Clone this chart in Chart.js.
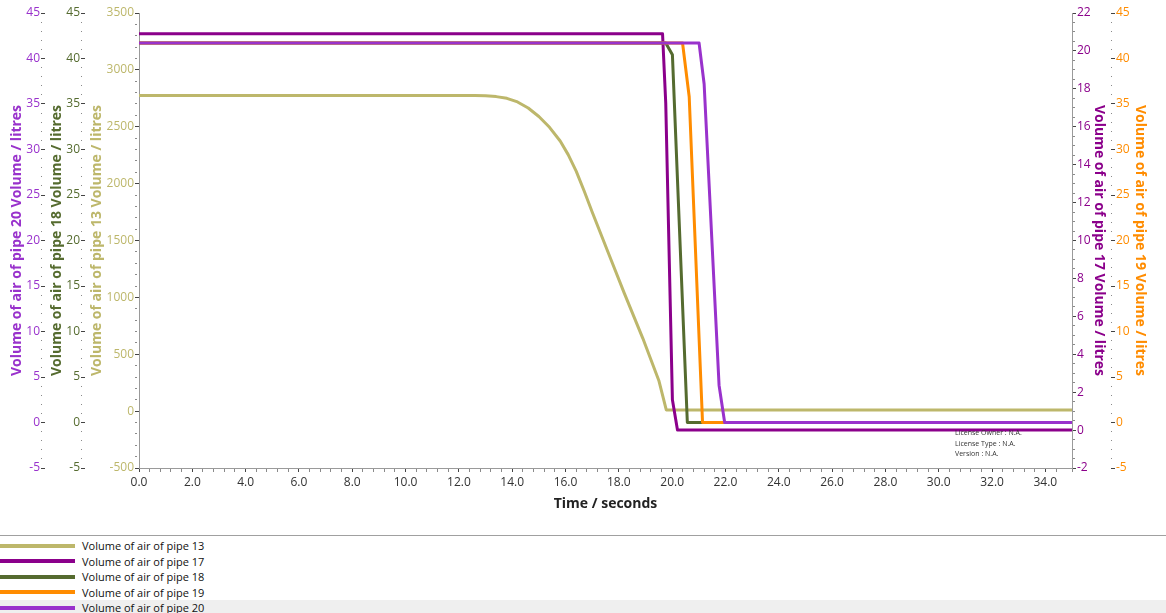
<!DOCTYPE html>
<html>
<head>
<meta charset="utf-8">
<script src="https://cdn.jsdelivr.net/npm/chart.js@4"></script>
<style>
    body { margin: 0; width: 1166px; height: 613px; overflow: hidden; background: #fff; font-family: "Open Sans", sans-serif; }
    #wrap { position: relative; width: 1166px; height: 530px; }
    #legend { position: absolute; left: 0; top: 535px; width: 1166px; border-top: 1px solid #a0a0a0; padding-top: 2px; }
    .row { display: flex; align-items: center; height: 15.5px; font-size: 11px; color: #111; }
    .row.sel { background: #efefef; }
    .sw { width: 75px; height: 4px; margin-right: 7px; }
</style>
</head>
<body>
<div id="wrap"><canvas id="lineChart"></canvas></div>
<div id="legend"></div>
<script>
// values (time in seconds, volume in litres)
const time13 = [0, 12.6, 13.0, 13.4, 13.8, 14.2, 14.6, 15.0, 15.4, 15.8, 16.1, 16.4, 16.7, 17.0, 17.6, 18.2, 18.9, 19.5, 19.78, 35];
const pipe13 = [2775, 2775, 2773, 2765, 2750, 2718, 2665, 2590, 2495, 2375, 2255, 2110, 1935, 1750, 1395, 1040, 640, 270, 10, 10];

const time17 = [0, 19.64, 19.76, 20.01, 20.2, 35];
const pipe17 = [20.9, 20.9, 17.25, 1.6, 0, 0];

const time18 = [0, 19.76, 20.01, 20.57, 35];
const pipe18 = [41.7, 41.7, 40.4, 0, 0];

const time19 = [0, 20.39, 20.64, 21.14, 35];
const pipe19 = [41.7, 41.7, 35.8, 0, 0];

const time20 = [0, 21.01, 21.2, 21.76, 21.97, 35];
const pipe20 = [41.7, 41.7, 37.2, 4.1, 0, 0];

const xTicks = { min: 0, max: 35, step: 0.4, every: 2 };

const toPoints = (xs, ys) => xs.map((x, i) => ({ x: x, y: ys[i] }));
const isMulti = (v, n) => Math.abs(v / n - Math.round(v / n)) < 1e-6;

function sideAxis(opts) {
    return {
        type: 'linear',
        position: opts.position,
        min: opts.min,
        max: opts.max,
        afterFit: (s) => { s.width = opts.width; },
        border: { display: opts.solid, color: '#9a9a9a' },
        grid: {
            drawOnChartArea: false,
            tickLength: 4,
            tickColor: (c) => isMulti(c.tick.value, opts.major) ? '#444' : '#8a8a8a',
            tickBorderDash: (c) => isMulti(c.tick.value, opts.major) ? [] : (opts.solid ? [2, 2] : [1, 3])
        },
        ticks: {
            stepSize: opts.step,
            autoSkip: false,
            padding: 1,
            color: opts.color,
            font: { family: 'Open Sans', size: 12 },
            callback: (v) => isMulti(v, opts.major) ? String(Math.round(v)) : ''
        },
        title: {
            display: true,
            text: opts.title,
            color: opts.color,
            padding: { top: 4, bottom: 0 },
            font: { family: 'Open Sans', size: 14, weight: 'bold' }
        }
    };
}

const licence = {
    id: 'licence',
    afterDraw(chart) {
        const { ctx, chartArea } = chart;
        ctx.save();
        ctx.font = '7px "Open Sans"';
        ctx.fillStyle = '#333';
        ctx.textBaseline = 'middle';
        const x = chartArea.right - 117;
        ctx.fillText('License Owner : N.A.', x, 433);
        ctx.fillText('License Type : N.A.', x, 443.5);
        ctx.fillText('Version : N.A.', x, 454);
        ctx.restore();
    }
};

document.addEventListener('DOMContentLoaded', () => {
    const ctx = document.getElementById('lineChart').getContext('2d');
    const chart = new Chart(ctx, {
        type: 'line',
        data: {
            datasets: [
                { label: 'Volume of air of pipe 13', data: toPoints(time13, pipe13), borderColor: '#bdb76b', yAxisID: 'y13', order: 4 },
                { label: 'Volume of air of pipe 17', data: toPoints(time17, pipe17), borderColor: '#8b008b', yAxisID: 'y17', order: 3 },
                { label: 'Volume of air of pipe 18', data: toPoints(time18, pipe18), borderColor: '#556b2f', yAxisID: 'y18', order: 2 },
                { label: 'Volume of air of pipe 19', data: toPoints(time19, pipe19), borderColor: '#ff8c00', yAxisID: 'y19', order: 1 },
                { label: 'Volume of air of pipe 20', data: toPoints(time20, pipe20), borderColor: '#9932cc', yAxisID: 'y20', order: 0 }
            ]
        },
        options: {
            responsive: true,
            maintainAspectRatio: false,
            animation: false,
            layout: { padding: { left: 5, right: 14, top: 13, bottom: 14 } },
            elements: {
                point: { radius: 0 },
                line: { borderWidth: 3, tension: 0, fill: false, borderJoinStyle: 'round' }
            },
            plugins: { legend: { display: false }, tooltip: { enabled: false } },
            scales: {
                x: {
                    type: 'linear',
                    position: 'bottom',
                    min: xTicks.min,
                    max: xTicks.max,
                    afterFit: (s) => { s.height = 48; },
                    border: { color: '#9a9a9a' },
                    grid: {
                        drawOnChartArea: false,
                        tickLength: 4,
                        tickColor: (c) => isMulti(c.tick.value, xTicks.every) ? '#444' : '#8a8a8a'
                    },
                    ticks: {
                        stepSize: xTicks.step,
                        autoSkip: false,
                        maxRotation: 0,
                        padding: 3,
                        color: '#333',
                        font: { family: 'Open Sans', size: 12 },
                        callback: (v) => isMulti(v, xTicks.every) ? v.toFixed(1) : ''
                    },
                    title: {
                        display: true,
                        text: 'Time / seconds',
                        color: '#222',
                        padding: { top: 0, bottom: 4 },
                        font: { family: 'Open Sans', size: 14, weight: 'bold' }
                    }
                },
                y13: sideAxis({ position: 'left', min: -500, max: 3500, step: 100, major: 500, width: 54, solid: true, color: '#bdb76b', title: 'Volume of air of pipe 13 Volume / litres' }),
                y18: sideAxis({ position: 'left', min: -5, max: 45, step: 1, major: 5, width: 40, solid: false, color: '#556b2f', title: 'Volume of air of pipe 18 Volume / litres' }),
                y20: sideAxis({ position: 'left', min: -5, max: 45, step: 1, major: 5, width: 40, solid: false, color: '#9932cc', title: 'Volume of air of pipe 20 Volume / litres' }),
                y17: sideAxis({ position: 'right', min: -2, max: 22, step: 0.5, major: 2, width: 39, solid: true, color: '#8b008b', title: 'Volume of air of pipe 17 Volume / litres' }),
                y19: sideAxis({ position: 'right', min: -5, max: 45, step: 1, major: 5, width: 41, solid: false, color: '#ff8c00', title: 'Volume of air of pipe 19 Volume / litres' })
            }
        },
        plugins: [licence]
    });

    // legend list under the chart, in dataset order
    const legend = document.getElementById('legend');
    chart.data.datasets.forEach((ds, i) => {
        const row = document.createElement('div');
        row.className = 'row' + (i === chart.data.datasets.length - 1 ? ' sel' : '');
        row.innerHTML = '<span class="sw" style="background:' + ds.borderColor + '"></span><span>' + ds.label + '</span>';
        legend.appendChild(row);
    });
});
</script>
</body>
</html>
